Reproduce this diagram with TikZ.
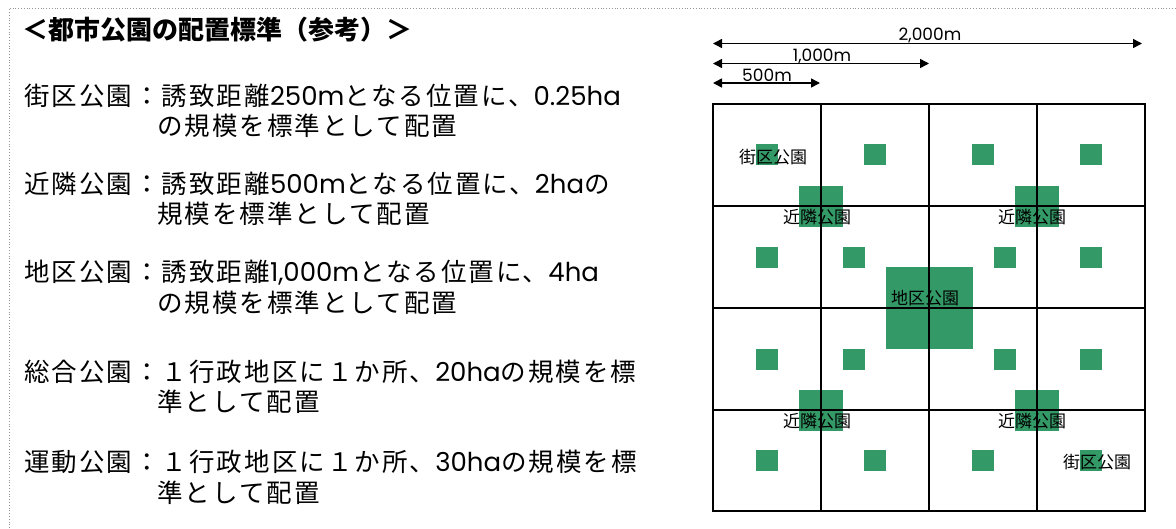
\documentclass[tikz,border=0pt]{standalone}
\usepackage{fontspec}
\setmainfont{Noto Sans CJK JP}
\newfontfamily\bodyfont[LetterSpace=8]{Noto Sans CJK JP}
\newfontfamily\latinfont{Poppins}
\newcommand{\lt}[1]{{\latinfont\fontsize{26}{30}\selectfont #1}}
\usetikzlibrary{arrows.meta}
\definecolor{parkgreen}{RGB}{51,153,102}
\definecolor{framegray}{RGB}{150,150,150}
\begin{document}
\begin{tikzpicture}[x=1pt,y=-1pt,
  park/.style={fill=parkgreen, draw=none, inner sep=0pt, outer sep=0pt},
  smallpark/.style={park, minimum width=22pt, minimum height=21pt},
  nbrpark/.style={park, minimum width=44pt, minimum height=41pt},
  distpark/.style={park, minimum width=87pt, minimum height=82pt},
  maplabel/.style={font=\fontsize{17}{17}\selectfont, inner sep=0pt},
  bodytext/.style={font=\bodyfont\fontsize{25.5}{30}\selectfont, anchor=west, inner sep=0pt},
  titletext/.style={font=\fontsize{26}{30}\selectfont\bfseries, anchor=west, inner sep=0pt},
  gridline/.style={line width=2pt},
  dimline/.style={line width=1.5pt, {Triangle[length=9pt,width=9pt]}-{Triangle[length=9pt,width=9pt]}},
  dimlabel/.style={font=\latinfont\fontsize{17}{17}\selectfont, inner sep=0pt, anchor=base},
  frameline/.style={draw=framegray, line width=0.8pt, dotted}
]
\useasboundingbox (0,0) rectangle (1176,528);
% dotted frame
\coordinate (fa) at (9,528);
\coordinate (fb) at (9,8);
\coordinate (fc) at (1176,8);
\draw[frameline] (fa) -- (fb) -- (fc);

% left text
\node[titletext] (title) at (22,30) {＜都市公園の配置標準（参考）＞};
\node[bodytext] (l1a) at (24,96) {街区公園：誘致距離\lt{250m}となる位置に、\lt{0.25ha}};
\node[bodytext] (l1b) at (157,126) {の規模を標準として配置};
\node[bodytext] (l2a) at (24,184) {近隣公園：誘致距離\lt{500m}となる位置に、\lt{2ha}の};
\node[bodytext] (l2b) at (157,214) {規模を標準として配置};
\node[bodytext] (l3a) at (24,273) {地区公園：誘致距離\lt{1,000m}となる位置に、\lt{4ha}};
\node[bodytext] (l3b) at (157,303) {の規模を標準として配置};
\node[bodytext] (l4a) at (24,372) {総合公園：１行政地区に１か所、\lt{20ha}の規模を標};
\node[bodytext] (l4b) at (157,402) {準として配置};
\node[bodytext] (l5a) at (24,462) {運動公園：１行政地区に１か所、\lt{30ha}の規模を標};
\node[bodytext] (l5b) at (157,493) {準として配置};

% dimension arrows
\coordinate (d2s) at (713,43.5);
\coordinate (d2e) at (1142,43.5);
\coordinate (d1s) at (713,63.5);
\coordinate (d1e) at (929,63.5);
\coordinate (d0s) at (713,83);
\coordinate (d0e) at (820,83);
\draw[dimline] (d2s) -- (d2e);
\draw[dimline] (d1s) -- (d1e);
\draw[dimline] (d0s) -- (d0e);
\node[dimlabel] (t2) at (930,40) {2,000m};
\node[dimlabel] (t1) at (822,61) {1,000m};
\node[dimlabel] (t0) at (767,81) {500m};

% parks
\foreach \x [count=\i] in {767,875,983,1091}{
  \node[smallpark] (sa\i) at (\x,154.5) {};
  \node[smallpark] (sd\i) at (\x,460.5) {};
}
\foreach \x [count=\i] in {767,853.5,1005,1091}{
  \node[smallpark] (sb\i) at (\x,257.5) {};
  \node[smallpark] (sc\i) at (\x,359.5) {};
}
\node[nbrpark] (n1) at (821,206.5) {};
\node[nbrpark] (n2) at (1037,206.5) {};
\node[nbrpark] (n3) at (821,410) {};
\node[nbrpark] (n4) at (1037,410) {};
\node[distpark] (dp) at (929.5,308) {};

% grid
\draw[gridline] (713,103.5) rectangle (1145,511);
\foreach \x in {821,929,1037}{\draw[gridline] (\x,103.5) -- (\x,511);}
\foreach \y in {205.5,307.5,409.5}{\draw[gridline] (713,\y) -- (1145,\y);}

% map labels
\node[maplabel] (lab1) at (773,157) {街区公園};
\node[maplabel] (lab2) at (817,217) {近隣公園};
\node[maplabel] (lab3) at (1032,217) {近隣公園};
\node[maplabel] (lab4) at (925,298) {地区公園};
\node[maplabel] (lab5) at (817,421) {近隣公園};
\node[maplabel] (lab6) at (1032,421) {近隣公園};
\node[maplabel] (lab7) at (1097,462) {街区公園};
\end{tikzpicture}
\end{document}
